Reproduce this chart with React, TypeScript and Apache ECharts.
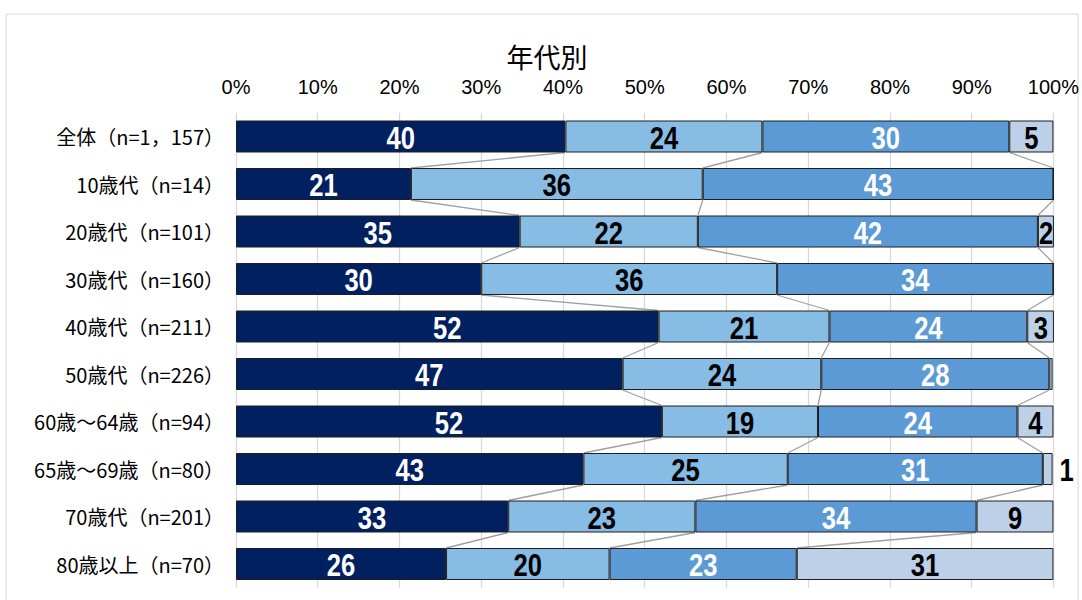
import React, { useEffect, useRef } from "react";
import * as echarts from "echarts";

const TITLE = "年代別";
const CATEGORIES = [
  "全体（n=1，157）",
  "10歳代（n=14）",
  "20歳代（n=101）",
  "30歳代（n=160）",
  "40歳代（n=211）",
  "50歳代（n=226）",
  "60歳～64歳（n=94）",
  "65歳～69歳（n=80）",
  "70歳代（n=201）",
  "80歳以上（n=70）",
];
const SERIES_NAMES = ["区分1", "区分2", "区分3", "区分4"];
const S1 = [40.3, 21.4, 34.7, 30.0, 51.7, 47.3, 52.1, 42.5, 33.3, 25.7];
const S2 = [24.1, 35.7, 21.8, 36.2, 20.9, 24.3, 19.1, 25.0, 22.9, 20.0];
const S3 = [30.2, 42.9, 41.6, 33.8, 24.2, 27.9, 24.4, 31.2, 34.4, 22.9];
const S4 = [5.4, 0.0, 2.0, 0.0, 3.3, 0.4, 4.4, 1.2, 9.4, 31.4];
const TICK_VALUES = [0, 10, 20, 30, 40, 50, 60, 70, 80, 90, 100];

const COLORS = ["#00205F", "#87BCE4", "#5B9AD5", "#BCD0E8"];
const LABEL_COLORS = ["#FFFFFF", "#000000", "#FFFFFF", "#000000"];
const BAR_W = 32;

export default function App() {
  const ref = useRef<HTMLDivElement>(null);
  useEffect(() => {
    if (!ref.current) return;
    const chart = echarts.init(ref.current, null, { renderer: "svg" });
    const all = [S1, S2, S3, S4];
    const cum = (k: number, i: number) => {
      let s = 0;
      for (let j = 0; j <= k; j++) s += all[j][i];
      return s;
    };
    const lineData: number[][] = [];
    for (let i = 0; i < CATEGORIES.length - 1; i++) {
      for (let k = 0; k < 3; k++) {
        lineData.push([cum(k, i), i, cum(k, i + 1), i + 1]);
      }
    }
    // label items: [anchor x value, row index]; text/colour kept alongside
    const labelData: number[][] = [];
    const labelInfo: { text: string; color: string; outside: boolean }[] = [];
    all.forEach((arr, si) => {
      arr.forEach((v, i) => {
        const r = Math.round(v);
        if (r === 0) return;
        const start = si === 0 ? 0 : cum(si - 1, i);
        const outside = v < 1.5;
        labelData.push([outside ? cum(si, i) : start + v / 2, i]);
        labelInfo.push({
          text: String(r),
          color: outside ? "#000000" : LABEL_COLORS[si],
          outside,
        });
      });
    });
    const numFont = "'Liberation Sans', Arial, sans-serif";
    const barSeries = all.map((arr, si) => ({
      name: SERIES_NAMES[si],
      type: "bar",
      stack: "total",
      barWidth: BAR_W,
      itemStyle: { color: COLORS[si], borderColor: "#1E1E1E", borderWidth: 1 },
      data: arr,
      z: 3,
    }));
    chart.setOption({
      animation: false,
      title: {
        text: TITLE,
        left: 542,
        top: 38,
        textAlign: "center",
        textStyle: {
          fontFamily: "'Noto Sans CJK JP', sans-serif",
          fontSize: 27,
          fontWeight: "normal",
          color: "#000",
        },
      },
      graphic: [
        {
          type: "rect",
          shape: { x: 6, y: 14, width: 1072, height: 620 },
          style: { fill: "none", stroke: "#D9D9D9", lineWidth: 1 },
          silent: true,
          z: -1,
        },
      ],
      grid: { left: 236, right: 28, top: 112.75, height: 475, containLabel: false },
      xAxis: {
        type: "value",
        position: "top",
        min: 0,
        max: 100,
        interval: 10,
        axisLine: { show: false },
        axisTick: { show: false },
        splitLine: { show: true, lineStyle: { color: "#D9D9D9", width: 1.3 } },
        axisLabel: {
          formatter: (v: number) => (TICK_VALUES.includes(v) ? v + "%" : ""),
          fontFamily: numFont,
          fontSize: 20,
          color: "#000",
          margin: 16,
        },
      },
      yAxis: {
        type: "category",
        inverse: true,
        data: CATEGORIES,
        axisLine: { show: false },
        axisTick: { show: false },
        axisLabel: {
          fontFamily: "'Noto Sans CJK JP', sans-serif",
          fontSize: 20,
          color: "#000",
          margin: 12,
        },
      },
      series: [
        ...barSeries,
        {
          type: "custom",
          z: 2,
          silent: true,
          encode: { x: [0, 2], y: [1, 3] },
          renderItem: (params: any, api: any) => {
            const p1 = api.coord([api.value(0), api.value(1)]);
            const p2 = api.coord([api.value(2), api.value(3)]);
            return {
              type: "line",
              shape: { x1: p1[0], y1: p1[1] + BAR_W / 2, x2: p2[0], y2: p2[1] - BAR_W / 2 },
              style: { stroke: "#A0A0A0", lineWidth: 1.3 },
            };
          },
          data: lineData,
        },
        {
          type: "custom",
          z: 10,
          silent: true,
          encode: { x: 0, y: 1 },
          renderItem: (params: any, api: any) => {
            const info = labelInfo[params.dataIndex];
            const p = api.coord([api.value(0), api.value(1)]);
            return {
              type: "text",
              x: info.outside ? p[0] + 7 : p[0],
              y: p[1] + 1,
              scaleX: 0.8,
              style: {
                text: info.text,
                fill: info.color,
                font: "bold 32px 'Liberation Sans', Arial, sans-serif",
                align: info.outside ? "left" : "center",
                verticalAlign: "middle",
              },
            };
          },
          data: labelData,
        },
      ],
    });
    return () => chart.dispose();
  }, []);
  return (
    <div
      ref={ref}
      style={{ position: "fixed", left: 0, top: 0, width: 1082, height: 600, background: "#fff" }}
    />
  );
}
